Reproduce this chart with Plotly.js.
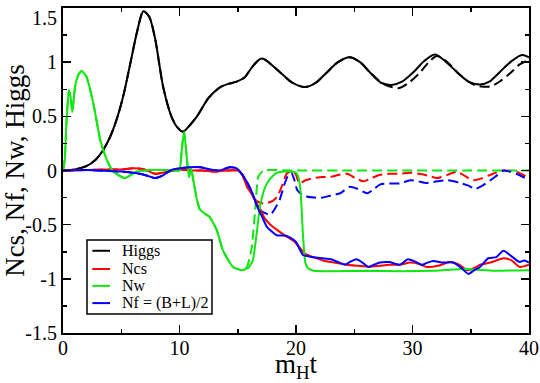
<!DOCTYPE html>
<html>
<head>
<meta charset="utf-8">
<script src="https://cdn.plot.ly/plotly-3.0.1.min.js"></script>
<style>
  body { margin: 0; background: #fff; }
  #plot { width: 540px; height: 383px; }
</style>
</head>
<body>
<div id="plot"></div>
<script>
// Higgs (solid and dashed)
var tHiggs = [0, 1, 2, 2.8, 3.4, 4, 4.6, 5.2, 5.8, 6.4, 6.9, 7.4, 7.9, 8.6, 9.3, 9.8, 10.3, 10.9, 11.5, 12.5, 13.5, 14.2, 14.9, 15.6, 16.2, 17.05, 18.6, 19.7, 20.8, 21.7, 22.6, 23.6, 24.6, 25.5, 26.4, 27.3, 28.2, 29.1, 30.1, 31, 31.9, 32.8, 33.8, 34.8, 35.8, 36.6, 37.5, 38.5, 39.4, 40];
var higgs = [0, 0.01, 0.04, 0.1, 0.18, 0.3, 0.47, 0.7, 1.0, 1.3, 1.47, 1.42, 1.22, 0.77, 0.5, 0.4, 0.358, 0.42, 0.5, 0.67, 0.77, 0.8, 0.82, 0.86, 0.95, 1.035, 0.91, 0.81, 0.77, 0.81, 0.9, 1.0, 1.045, 1.0, 0.9, 0.81, 0.79, 0.82, 0.91, 1.01, 1.07, 1.01, 0.91, 0.82, 0.795, 0.82, 0.91, 1.01, 1.066, 1.045];
var tHiggsD = [0, 1, 2, 2.8, 3.4, 4, 4.6, 5.2, 5.8, 6.4, 6.9, 7.4, 7.9, 8.6, 9.3, 9.8, 10.3, 10.9, 11.5, 12.5, 13.5, 14.2, 14.9, 15.6, 16.2, 17.05, 18.6, 19.7, 20.8, 21.7, 22.6, 23.6, 24.6, 25.5, 26.4, 27.5, 28.8, 29.8, 30.6, 31.4, 32.1, 33, 34.1, 35.3, 36.65, 37.6, 38.4, 39.2, 40];
var higgsD = [0, 0.01, 0.04, 0.1, 0.18, 0.3, 0.47, 0.7, 1.0, 1.3, 1.47, 1.42, 1.22, 0.77, 0.5, 0.4, 0.358, 0.42, 0.5, 0.67, 0.77, 0.8, 0.82, 0.86, 0.95, 1.035, 0.91, 0.81, 0.77, 0.81, 0.9, 1.0, 1.045, 1.0, 0.9, 0.8, 0.76, 0.82, 0.9, 1.0, 1.057, 1.0, 0.88, 0.79, 0.775, 0.83, 0.9, 0.98, 1.02];

// Ncs (red)
var tNcs = [0, 2, 4, 5, 6, 7, 7.9, 9, 10, 11, 12, 12.9, 14, 15, 15.4, 15.8, 16.2, 16.6, 17.0, 17.3, 17.8, 18.4, 19.2, 19.8, 20.3, 20.8, 21.5, 22.3, 23.3, 24.4, 25.3, 26.3, 27.2, 28, 28.9, 29.8, 30.5, 31.2, 32.2, 33.2, 34, 34.7, 35.3, 35.8, 36.7, 37.8, 38.5, 39.2, 40];
var ncs = [0, 0.005, 0.01, 0.01, 0.02, 0.01, -0.03, -0.01, 0.01, 0, 0, -0.01, 0, 0, -0.04, -0.15, -0.22, -0.3, -0.37, -0.44, -0.5, -0.55, -0.61, -0.65, -0.71, -0.77, -0.8, -0.83, -0.85, -0.87, -0.88, -0.89, -0.88, -0.87, -0.87, -0.85, -0.86, -0.89, -0.88, -0.845, -0.87, -0.92, -0.9, -0.87, -0.85, -0.81, -0.83, -0.89, -0.87];
var tNcsD = [0, 2, 4, 5, 6, 7, 7.9, 9, 10, 11, 12, 12.9, 14, 15, 15.4, 15.8, 16.2, 16.5, 17.0, 17.5, 18.0, 18.4, 18.8, 19.2, 19.7, 20.0, 20.3, 20.8, 21.5, 22.3, 22.9, 23.7, 24.4, 25.1, 25.8, 26.5, 27.2, 28, 28.9, 29.8, 30.6, 31.4, 32.1, 33, 33.8, 34.5, 35.2, 36, 36.9, 37.8, 38.9, 39.5, 40];
var ncsD = [0, 0.005, 0.01, 0.01, 0.02, 0.01, -0.03, -0.01, 0.01, 0, 0, -0.01, 0, 0, -0.04, -0.15, -0.2, -0.27, -0.3, -0.3, -0.28, -0.24, -0.14, -0.03, 0, -0.04, -0.12, -0.09, -0.07, -0.06, -0.06, -0.04, -0.03, -0.07, -0.1, -0.07, -0.04, -0.03, -0.03, -0.02, -0.03, -0.05, -0.07, -0.04, -0.01, -0.05, -0.09, -0.07, -0.03, 0, -0.01, -0.04, -0.07];

// Nw (green)
var tNw = [0, 0.15, 0.3, 0.5, 0.65, 0.8, 1.03, 1.3, 1.6, 2.0, 2.6, 3.2, 3.75, 4.3, 5.3, 6.3, 7.5, 8.5, 9.5, 10.0, 10.2, 10.4, 10.6, 10.8, 11.0, 11.2, 11.5, 11.75, 12.2, 12.6, 13.2, 13.7, 14.2, 14.6, 15.0, 15.4, 15.9, 16.3, 16.6, 16.9, 17.2, 17.5, 18.0, 18.4, 19.0, 19.5, 20.0, 20.2, 20.4, 20.6, 20.8, 21.0, 21.5, 23, 26, 29, 32, 34.5, 37, 40];
var nw = [0, 0.1, 0.45, 0.74, 0.68, 0.54, 0.77, 0.88, 0.92, 0.87, 0.62, 0.28, 0.1, -0.01, -0.07, -0.01, 0.005, 0.005, 0, 0, 0.2, 0.36, 0.15, -0.06, 0.02, -0.1, -0.27, -0.36, -0.4, -0.43, -0.55, -0.73, -0.83, -0.89, -0.91, -0.92, -0.9, -0.83, -0.6, -0.34, -0.2, -0.12, -0.05, -0.02, -0.01, -0.01, -0.02, -0.06, -0.2, -0.6, -0.85, -0.9, -0.925, -0.93, -0.925, -0.93, -0.925, -0.91, -0.925, -0.92];
var tNwD = [0, 0.15, 0.3, 0.5, 0.65, 0.8, 1.03, 1.3, 1.6, 2.0, 2.6, 3.2, 3.75, 4.3, 5.3, 6.3, 7.5, 8.5, 9.5, 10.0, 10.2, 10.4, 10.6, 10.8, 11.0, 11.2, 11.5, 11.75, 12.2, 12.6, 13.2, 13.7, 14.2, 14.6, 15.0, 15.4, 15.8, 16.2, 16.5, 16.75, 17.2, 20, 25, 30, 35, 40];
var nwD = [0, 0.1, 0.45, 0.74, 0.68, 0.54, 0.77, 0.88, 0.92, 0.87, 0.62, 0.28, 0.1, -0.01, -0.07, -0.01, 0.005, 0.005, 0, 0, 0.2, 0.36, 0.15, -0.06, 0.02, -0.1, -0.27, -0.36, -0.4, -0.43, -0.55, -0.73, -0.83, -0.89, -0.91, -0.92, -0.89, -0.71, -0.36, -0.06, 0, 0, 0, 0, 0, 0];

// Nf = (B+L)/2 (blue)
var tNf = [0, 2, 4, 5, 6, 6.6, 7.3, 7.9, 8.5, 9.2, 10, 10.9, 11.8, 12.6, 13.4, 14.3, 14.9, 15.4, 16, 16.4, 16.7, 17.1, 17.5, 18.0, 18.4, 19.0, 19.5, 20.0, 20.6, 21.5, 22.3, 23, 23.5, 24.2, 24.7, 25.2, 25.7, 26.2, 26.7, 27.2, 28, 28.9, 29.6, 30.2, 30.8, 31.3, 31.8, 32.5, 33.5, 34.2, 34.8, 35.3, 35.8, 36.5, 37.2, 37.8, 38.6, 39.2, 39.6, 40];
var nf = [0, 0.005, -0.005, -0.01, -0.02, -0.03, -0.05, -0.07, -0.05, 0, 0.02, 0.03, 0.03, 0.01, 0, 0.03, 0.02, -0.04, -0.15, -0.25, -0.34, -0.43, -0.52, -0.57, -0.6, -0.6, -0.62, -0.66, -0.78, -0.8, -0.81, -0.82, -0.84, -0.87, -0.84, -0.82, -0.85, -0.89, -0.87, -0.85, -0.845, -0.87, -0.82, -0.84, -0.87, -0.85, -0.835, -0.85, -0.85, -0.9, -0.955, -0.92, -0.89, -0.81, -0.8, -0.74, -0.8, -0.845, -0.83, -0.85];
var tNfD = [0, 2, 4, 5, 6, 6.6, 7.3, 7.9, 8.5, 9.2, 10, 10.9, 11.8, 12.6, 13.4, 14.3, 14.9, 15.4, 16, 16.4, 16.7, 17.1, 17.5, 17.8, 18.2, 18.6, 19.0, 19.3, 19.6, 19.9, 20.1, 20.5, 20.9, 21.6, 22.3, 23, 23.8, 24.6, 25.3, 26.1, 26.7, 27.2, 28, 28.9, 29.8, 30.5, 31.2, 32.1, 33, 34.1, 34.8, 35.4, 36, 36.7, 37.3, 37.8, 38.3, 38.9, 39.5, 40];
var nfD = [0, 0.005, -0.005, -0.01, -0.02, -0.03, -0.05, -0.07, -0.05, 0, 0.02, 0.03, 0.03, 0.01, 0, 0.03, 0.02, -0.04, -0.15, -0.25, -0.34, -0.38, -0.4, -0.41, -0.35, -0.27, -0.13, -0.05, -0.02, -0.1, -0.18, -0.22, -0.24, -0.25, -0.25, -0.23, -0.21, -0.15, -0.17, -0.21, -0.17, -0.13, -0.12, -0.12, -0.09, -0.1, -0.115, -0.1, -0.09, -0.115, -0.14, -0.17, -0.14, -0.09, -0.04, 0, -0.01, -0.03, -0.06, -0.09];

var legendNames = ["Higgs", "Ncs", "Nw", "Nf = (B+L)/2"];
var seriesColors = ["#000000", "#ff0000", "#11e611", "#0000ff"];
var xTicks = [0, 10, 20, 30, 40];
var yTicks = [-1.5, -1, -0.5, 0, 0.5, 1];
var yTickText = ["-1.5", "-1", "-0.5", "0", "0.5", "1"];
// the top label is drawn as an annotation so it sits inside the page like the original
var yTopLabel = "1.5";

var serif = "Liberation Serif";

function line(x, y, color, name, dashed, smooth) {
    return {
        x: x,
        y: y,
        type: "scatter",
        mode: "lines",
        name: name,
        showlegend: false,
        line: {
            color: color,
            width: 2,
            dash: dashed ? "10px,5px" : "solid",
            shape: "spline",
            smoothing: smooth
        }
    };
}

var data = [
    line(tHiggsD, higgsD, seriesColors[0], "Higgs", true, 0.8),
    line(tNcsD, ncsD, seriesColors[1], "Ncs", true, 0.6),
    line(tNwD, nwD, seriesColors[2], "Nw", true, 0.4),
    line(tNfD, nfD, seriesColors[3], "Nf", true, 0.6),
    line(tHiggs, higgs, seriesColors[0], legendNames[0], false, 0.8),
    line(tNcs, ncs, seriesColors[1], legendNames[1], false, 0.6),
    line(tNw, nw, seriesColors[2], legendNames[2], false, 0.4),
    line(tNf, nf, seriesColors[3], legendNames[3], false, 0.6)
];

// hand-drawn legend box (Grace style), in paper coordinates
var legX0 = 0.0515, legX1 = 0.3197, legY0 = 0.0585, legY1 = 0.286;
var rowY = [0.253, 0.197, 0.145, 0.092];
var shapes = [{
    type: "rect", xref: "paper", yref: "paper",
    x0: legX0, x1: legX1, y0: legY0, y1: legY1,
    line: {color: "#000", width: 1.5}, fillcolor: "#fff", layer: "above"
}];
var annotations = [{
    xref: "paper", yref: "y", x: 0, y: 1.5, xanchor: "right", yanchor: "top",
    xshift: -4, yshift: 3, showarrow: false,
    text: yTopLabel, font: {family: serif, size: 20, color: "#000"}
}];
legendNames.forEach(function (name, i) {
    shapes.push({
        type: "line", xref: "paper", yref: "paper",
        x0: 0.063, x1: 0.101, y0: rowY[i], y1: rowY[i],
        line: {color: seriesColors[i], width: 2}, layer: "above"
    });
    annotations.push({
        xref: "paper", yref: "paper", x: 0.122, y: rowY[i],
        xanchor: "left", yanchor: "middle", showarrow: false,
        text: name, font: {family: serif, size: 16, color: "#000"}
    });
});

var layout = {
    width: 540,
    height: 383,
    margin: {l: 63, r: 11, t: 8, b: 50},
    paper_bgcolor: "#ffffff",
    plot_bgcolor: "#ffffff",
    font: {family: serif, color: "#000000"},
    showlegend: false,
    shapes: shapes,
    annotations: annotations,
    xaxis: {
        range: [0, 40],
        tickmode: "array",
        tickvals: xTicks,
        ticktext: xTicks.map(String),
        ticks: "inside",
        ticklen: 8,
        tickwidth: 1.5,
        tickcolor: "#000",
        showline: true,
        linewidth: 2,
        linecolor: "#000",
        mirror: "ticks",
        showgrid: false,
        zeroline: false,
        ticklabeloverflow: "allow",
        ticklabelstandoff: -4,
        tickfont: {family: serif, size: 20},
        minor: {tick0: 0, dtick: 5, ticks: "inside", ticklen: 4, tickwidth: 1.5, tickcolor: "#000", showgrid: false},
        title: {text: "m<sub>H</sub>t", font: {family: serif, size: 27}, standoff: 9}
    },
    yaxis: {
        range: [-1.5, 1.5],
        tickmode: "array",
        tickvals: yTicks,
        ticktext: yTickText,
        ticks: "inside",
        ticklen: 8,
        tickwidth: 1.5,
        tickcolor: "#000",
        showline: true,
        linewidth: 2,
        linecolor: "#000",
        mirror: "ticks",
        showgrid: false,
        zeroline: false,
        ticklabeloverflow: "allow",
        tickfont: {family: serif, size: 20},
        minor: {tick0: 0, dtick: 0.25, ticks: "inside", ticklen: 4, tickwidth: 1.5, tickcolor: "#000", showgrid: false},
        title: {text: "Ncs, Nf, Nw, Higgs", font: {family: serif, size: 27}, standoff: 8}
    }
};

Plotly.newPlot("plot", data, layout, {staticPlot: true});
</script>
</body>
</html>
